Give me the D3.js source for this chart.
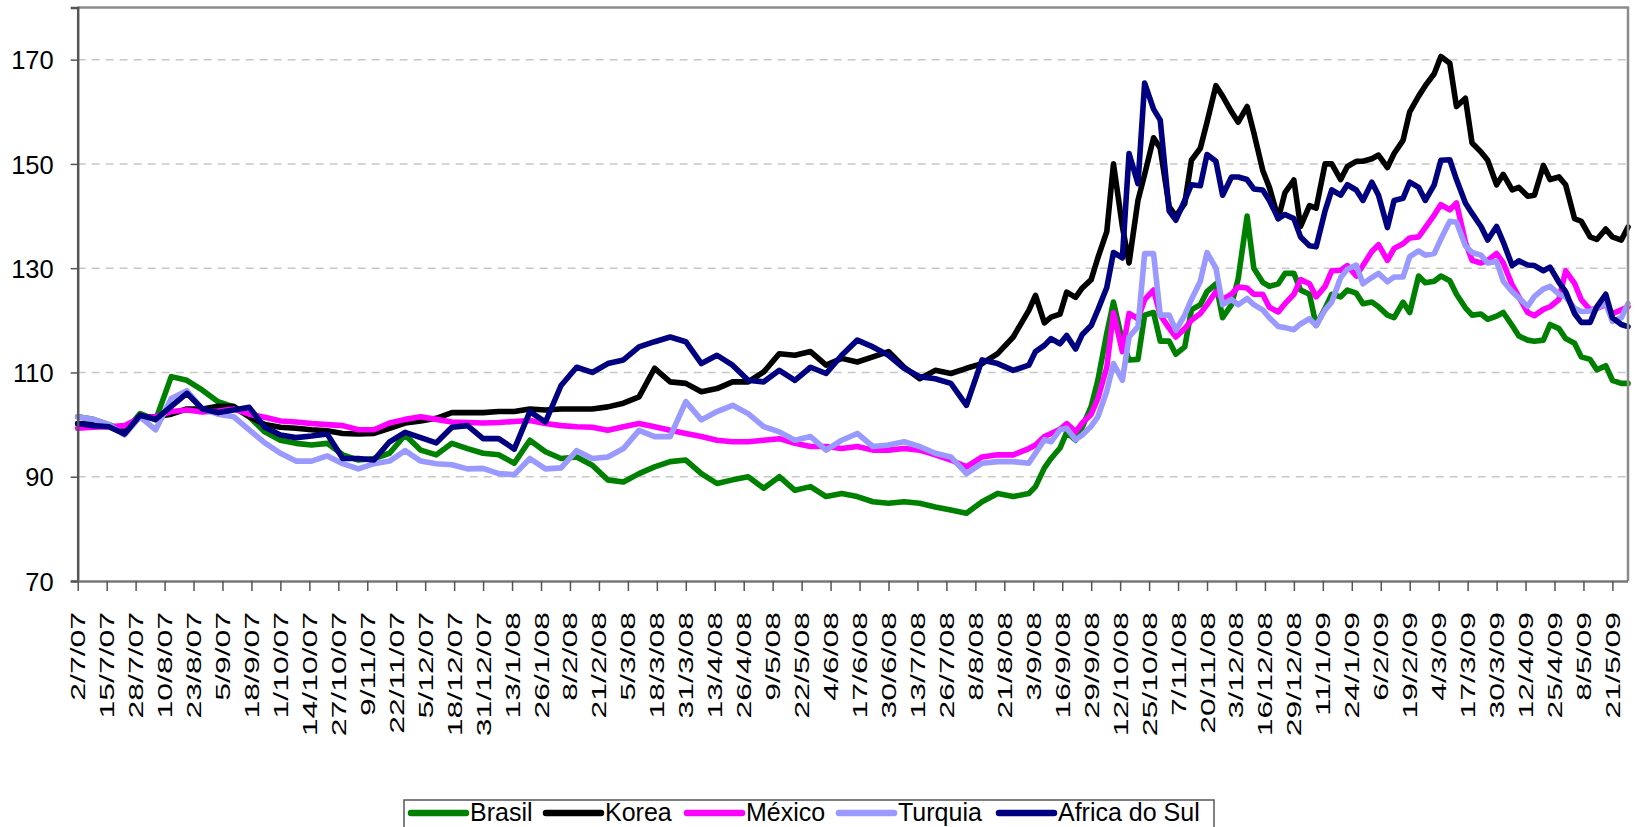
<!DOCTYPE html>
<html><head><meta charset="utf-8">
<script src="https://cdn.jsdelivr.net/npm/d3@7"></script>
<style>
html,body{margin:0;padding:0;background:#fff;}
svg{display:block;}
text{font-family:"Liberation Sans",Arial,sans-serif;fill:#000;}
</style></head><body>
<svg id="chart" width="1635" height="827"></svg>
<script>
const dates = ["2/7/07","9/7/07","16/7/07","23/7/07","30/7/07","6/8/07","13/8/07","20/8/07","27/8/07","3/9/07","10/9/07","17/9/07","24/9/07","1/10/07","8/10/07","15/10/07","22/10/07","29/10/07","5/11/07","12/11/07","19/11/07","26/11/07","3/12/07","10/12/07","17/12/07","24/12/07","31/12/07","7/1/08","14/1/08","21/1/08","28/1/08","4/2/08","11/2/08","18/2/08","25/2/08","3/3/08","10/3/08","17/3/08","24/3/08","31/3/08","7/4/08","14/4/08","21/4/08","28/4/08","5/5/08","12/5/08","19/5/08","26/5/08","2/6/08","9/6/08","16/6/08","23/6/08","30/6/08","7/7/08","14/7/08","21/7/08","28/7/08","4/8/08","11/8/08","18/8/08","25/8/08","1/9/08",
"4/9/08","8/9/08","11/9/08","15/9/08","18/9/08","22/9/08","25/9/08","29/9/08","2/10/08","6/10/08","9/10/08","13/10/08","16/10/08","20/10/08","23/10/08","27/10/08","30/10/08","3/11/08","6/11/08","10/11/08","13/11/08","17/11/08","20/11/08","24/11/08","27/11/08","1/12/08","4/12/08","8/12/08","11/12/08","15/12/08","18/12/08","22/12/08","25/12/08","29/12/08","1/1/09","5/1/09","8/1/09","12/1/09","15/1/09","19/1/09","22/1/09","26/1/09","29/1/09","2/2/09","5/2/09","9/2/09","12/2/09","16/2/09","19/2/09","23/2/09","26/2/09","2/3/09","5/3/09","9/3/09","12/3/09","16/3/09","19/3/09","23/3/09","26/3/09","30/3/09","2/4/09","6/4/09","9/4/09","13/4/09","16/4/09","20/4/09","23/4/09","27/4/09","30/4/09","4/5/09","7/5/09","11/5/09","14/5/09","18/5/09","21/5/09","25/5/09","28/5/09"];

const brasil = [101.5,101,100,98.6,102.1,100.9,109.2,108.5,106.6,104.4,103.4,101.5,98.6,97,96.4,96.1,96.4,94.2,93.2,93.5,94.5,98,95.1,94.2,96.4,95.4,94.5,94.2,92.6,97,94.8,93.5,93.8,92.2,
89.4,89,90.6,91.9,92.9,93.2,90.6,88.7,89.4,90,87.8,90,87.4,88.1,86.2,86.8,86.2,85.2,84.9,85.2,84.9,84.2,83.6,83,85.2,86.8,86.2,86.8,
88.1,91.7,93.5,95.5,98.5,97,99.5,103.5,108.5,117.5,123.5,116,112.4,112.5,121,121.5,116,116,113.5,114.9,122,123,125.5,127,120.5,123,128,140,130,127.3,126.5,127,129,129,125.8,125,119,122.3,125,124.5,125.8,125.2,123.2,123.5,122.6,121,120.5,123.5,121.5,128.5,127.2,127.5,128.5,127.6,125,122.4,121,121.2,120.2,120.8,121.5,119,117,116.2,116,116.2,119.2,118.4,116.5,115.6,113,112.5,110.5,111.3,108.5,107.9,107.9];

const korea = [100.2,100,99.8,98.5,101.5,101.5,102,103,103,103.5,103.5,101.5,100,99.5,99.3,99,98.8,98.3,98.2,98.3,99.3,100.3,100.7,101.2,102.3,102.3,102.3,102.5,102.5,103,102.8,103,103,103,
103.4,104.1,105.3,110.8,108.2,107.9,106.3,106.9,108.2,108.2,110.1,113.6,113.3,114,111.4,112.7,112,113,114,111,108.8,110.4,109.8,110.8,111.7,113.6,116.8,121.9,
124.8,119.5,120.6,121.2,125.4,124.4,126.2,127.8,132,137,150,138,131,143,148,155,153,141.8,140,142.4,150.7,153,158,165,163,160,158,161,156,148.8,145.5,139.5,144.5,146.9,138,142,141.5,150,150,147,149.5,150.5,150.5,151,151.7,149.3,152,154.5,160,163,165,167.3,170.6,169.3,161,162.6,154,152.3,150.7,146,148,145,145.5,143.8,144,149.7,147,147.5,146,139.5,139,136,135.5,137.5,136,135.4,137.9];

const mexico = [99.3,99.5,99.6,99.8,101.3,101.5,102.5,102.8,102.4,102.6,103,102,101.4,100.7,100.5,100.2,100,99.8,99,99,100.3,101,101.5,101,100.5,100.4,100.3,100.4,100.6,100.8,100.2,99.8,99.6,99.5,
98.9,99.6,100.2,99.6,98.9,98.3,97.7,97,96.7,96.7,97,97.3,96.4,95.8,95.8,95.4,95.8,95.1,95.1,95.4,95.1,94.2,93.2,91.9,93.8,94.2,94.2,95.4,
96.1,97.7,98.3,99.1,100.2,98.6,100.3,102,105,111,121.5,114,121.3,120.3,124,125.8,121,118.5,116.8,118.4,120,121.3,123,125.5,124,125,126.4,126.2,125,125,122.5,121.6,123.2,125,127.8,127,124.5,126.5,129.5,129.6,130.5,128.5,130.5,133.2,134.5,131.5,133.8,134.7,135.8,136,137.8,140.2,142.2,141.2,142.5,135,131.5,131,131.5,132.8,131,126.8,124.5,121.5,120.9,122.1,122.6,124,129.5,127.1,124,122,122.3,123,121.3,122,122.6];

const turquia = [101.5,101,100,98,101.5,99,105,106.5,103,102,101.5,99,96.5,94.5,93,93,94,92.5,91.5,92.5,93,95,93,92.5,92.3,91.5,91.6,90.6,90.4,93.5,91.5,91.7,95,93.5,
93.8,95.4,98.9,97.7,97.7,104.4,100.9,102.5,103.7,102.1,99.6,98.6,97,97.7,95.1,97,98.3,95.8,96.1,96.7,95.8,94.5,93.8,90.6,92.6,92.9,92.9,92.6,
94.5,97.1,96.7,99,99.3,97.1,98,99.7,101.5,106.4,111.7,108.5,116.8,118.8,132.8,132.8,121,121,118.1,121,124,127.5,133,130,123,124,123,124.2,123,122,120.5,118.8,118.6,118.2,119.3,120.3,119,122,123.5,128.2,129.8,130.6,127,128.2,129,127.4,128.3,128.3,132.2,133.3,132.5,132.8,135.6,139,138.8,134.3,133,132.5,131,131.3,127.5,125.5,124.3,122.7,124.6,126,126.5,125,124.5,122.3,121.7,121.8,122.3,123.2,119.8,120.5,123.2];

const africaDoSul = [100.2,99.8,99.6,98.2,101.8,101,103.5,106,103,102.3,102.8,103.3,99.5,98,97.5,97.8,98.2,93.5,93.5,93.2,96.7,98.5,97.5,96.5,99.5,99.8,97.3,97.3,95.3,102.5,100.5,107.5,111,110,
111.7,112.4,114.9,115.9,116.8,115.9,111.7,113.3,111.4,108.5,108.2,110.4,108.5,111,109.8,113.3,116.2,114.9,113.3,110.8,109.2,108.8,107.9,103.7,112.4,111.7,110.4,111.4,
114,115.2,116.5,115.5,117.1,114.5,117.3,119,122,126.3,133,132,152,146.2,165.5,160.5,158.4,141,139.2,143,146,145.8,151.8,150.5,144,147.5,147.5,147,145.2,145,143,139.5,140.3,139.5,136,134.3,134.1,141,145,144,146,145,143,146.5,144,137.8,143,143.4,146.5,145.5,143,146,150.7,150.8,147,142.5,140.5,138,135.4,138,135,130.5,131.4,130.6,130.5,129.5,130.2,127.3,125.5,121.3,119.6,119.6,122.6,125,120.5,119.2,118.8];

const seriesNames = ["Brasil","Korea","México","Turquia","Africa do Sul"];
const seriesColors = ["#008000","#000000","#FF00FF","#9999FF","#000080"];
const seriesValues = [brasil, korea, mexico, turquia, africaDoSul];

const yTicks = [70,90,110,130,150,170];
const xTickLabels = ["2/7/07","15/7/07","28/7/07","10/8/07","23/8/07","5/9/07","18/9/07","1/10/07","14/10/07","27/10/07","9/11/07","22/11/07","5/12/07","18/12/07","31/12/07","13/1/08","26/1/08","8/2/08","21/2/08","5/3/08","18/3/08","31/3/08","13/4/08","26/4/08","9/5/08","22/5/08","4/6/08","17/6/08","30/6/08","13/7/08","26/7/08","8/8/08","21/8/08","3/9/08","16/9/08","29/9/08","12/10/08","25/10/08","7/11/08","20/11/08","3/12/08","16/12/08","29/12/08","11/1/09","24/1/09","6/2/09","19/2/09","4/3/09","17/3/09","30/3/09","12/4/09","25/4/09","8/5/09","21/5/09"];
const xDomain = ["2/7/07","28/5/09"];

function parseDate(s){ const p = s.split("/").map(Number); return new Date(2000+p[2], p[1]-1, p[0], 12); }

const plot = {left:77.7, right:1628, top:7.5, bottom:581};
const svg = d3.select("#chart");
const FONT = '"Liberation Sans",Arial,sans-serif';

const x = d3.scaleTime().domain(xDomain.map(parseDate)).range([plot.left, plot.right]);
const y = d3.scaleLinear().domain([70,180]).range([plot.bottom, plot.top]);

// gridlines
svg.append("g").selectAll("line").data(yTicks.filter(v=>v>70)).join("line")
  .attr("x1", plot.left).attr("x2", plot.right)
  .attr("y1", d=>y(d)).attr("y2", d=>y(d))
  .attr("stroke","#c8c8c8").attr("stroke-width",1.5).attr("stroke-dasharray","8,6");

// lines
const parsed = dates.map(parseDate);
const line = d3.line().x((d,i)=>x(parsed[i])).y(d=>y(d));
svg.append("g").selectAll("path").data(seriesValues).join("path")
  .attr("d", d=>line(d))
  .attr("fill","none")
  .attr("stroke",(d,i)=>seriesColors[i])
  .attr("stroke-width",5.6)
  .attr("stroke-linejoin","round")
  .attr("stroke-linecap","round");

// plot border (top/right)
svg.append("path")
  .attr("d", `M${plot.left},${plot.top}H${plot.right}V${plot.bottom}`)
  .attr("fill","none").attr("stroke","#8c8c8c").attr("stroke-width",2.5);

// y axis
const yAxis = svg.append("g").attr("transform",`translate(${plot.left},0)`)
  .call(d3.axisLeft(y).tickValues(yTicks).tickSize(7).tickPadding(17).tickFormat(d3.format("d")));
yAxis.select(".domain").attr("stroke","#555").attr("stroke-width",2.5);
yAxis.selectAll(".tick line").attr("stroke","#555").attr("stroke-width",1.5);
yAxis.selectAll(".tick text").attr("font-size",25.5).attr("font-family",FONT).attr("dy","0.36em");

// x axis
const xTickDates = xTickLabels.map(parseDate);
const xAxis = svg.append("g").attr("transform",`translate(0,${plot.bottom})`)
  .call(d3.axisBottom(x).tickValues(xTickDates).tickSize(10).tickFormat((d,i)=>xTickLabels[i]));
xAxis.select(".domain").attr("stroke","#777").attr("stroke-width",2.5).attr("d",`M${plot.left},0.5H${plot.right}`);
xAxis.selectAll(".tick line").attr("stroke","#555").attr("stroke-width",1.5);
xAxis.selectAll(".tick text")
  .attr("font-size",21).attr("font-family",FONT)
  .attr("text-anchor","end")
  .attr("y",null).attr("dy",null)
  .attr("transform","translate(0,31) rotate(-90) scale(1.52,1)")
  .attr("dominant-baseline","central");

// legend
const legend = svg.append("g");
legend.append("rect").attr("x",404).attr("y",800).attr("width",810).attr("height",40)
  .attr("fill","#fff").attr("stroke","#555").attr("stroke-width",1.5);
const legX = [411, 546, 687, 839, 999];
const legItem = legend.selectAll("g.item").data(seriesNames).join("g").attr("class","item")
  .attr("transform",(d,i)=>`translate(${legX[i]},0)`);
legItem.append("line").attr("x1",0).attr("x2",55).attr("y1",813).attr("y2",813)
  .attr("stroke",(d,i)=>seriesColors[i]).attr("stroke-width",6.5).attr("stroke-linecap","round");
legItem.append("text").attr("x",59).attr("y",821).attr("font-size",25).text(d=>d);
</script>
</body></html>
